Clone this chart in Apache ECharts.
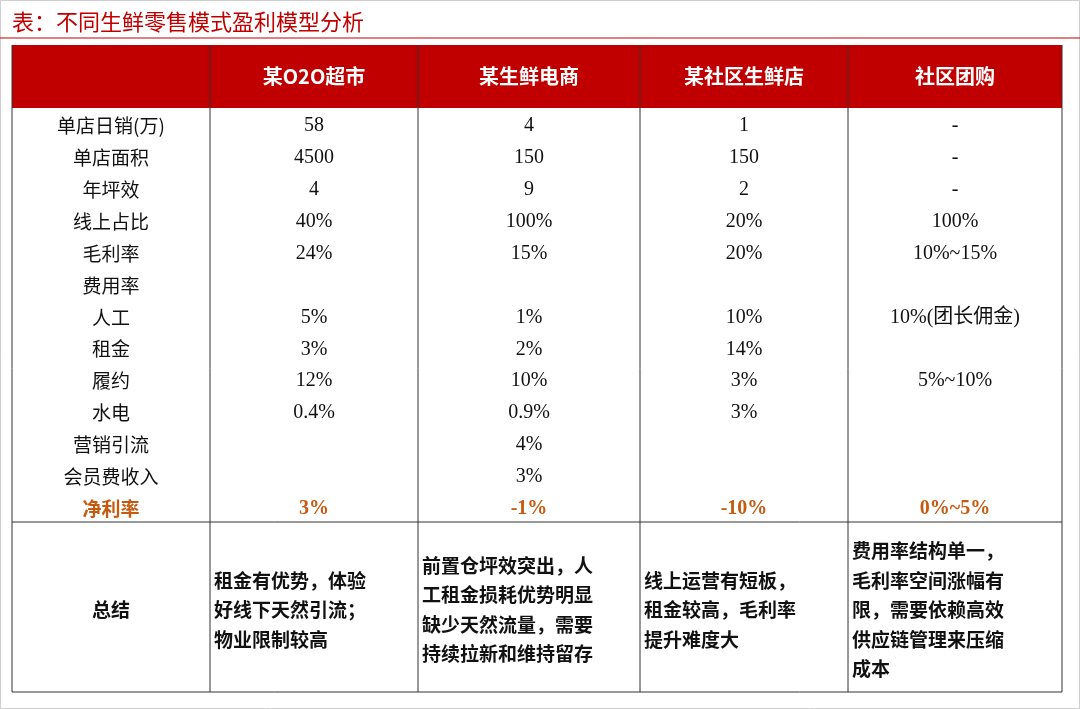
<!DOCTYPE html>
<html><head><meta charset="utf-8">
<script src="https://cdn.jsdelivr.net/npm/echarts@6/dist/echarts.min.js"></script>
<style>html,body{margin:0;padding:0;background:#fff}#c{width:1080px;height:709px}</style>
</head><body><div id="c"></div>
<script>
const title = '表：不同生鲜零售模式盈利模型分析';
const columns = ['某O2O超市', '某生鲜电商', '某社区生鲜店', '社区团购'];
const rowLabels = ['单店日销(万)', '单店面积', '年坪效', '线上占比', '毛利率', '费用率', '人工', '租金', '履约', '水电', '营销引流', '会员费收入', '净利率'];
const colO2O = ['58', '4500', '4', '40%', '24%', '', '5%', '3%', '12%', '0.4%', '', '', '3%'];
const colEcom = ['4', '150', '9', '100%', '15%', '', '1%', '2%', '10%', '0.9%', '4%', '3%', '-1%'];
const colStore = ['1', '150', '2', '20%', '20%', '', '10%', '14%', '3%', '3%', '', '', '-10%'];
const colGroup = ['-', '-', '-', '100%', '10%~15%', '', '10%(团长佣金)', '', '5%~10%', '', '', '', '0%~5%'];
const summaryLabel = '总结';
const summaries = [
  ['租金有优势，体验', '好线下天然引流；', '物业限制较高'],
  ['前置仓坪效突出，人', '工租金损耗优势明显', '缺少天然流量，需要', '持续拉新和维持留存'],
  ['线上运营有短板，', '租金较高，毛利率', '提升难度大'],
  ['费用率结构单一，', '毛利率空间涨幅有', '限，需要依赖高效', '供应链管理来压缩', '成本']
];

const colData = [colO2O, colEcom, colStore, colGroup];
const X = [12, 210, 418, 640, 848, 1062];
const headTop = 45, headBot = 108, rowTop = 110, rowH = 31.9, sumTop = 522, sumBot = 692;
const red = '#c00000', netColor = '#c55a11';
const cjk = '"Noto Sans CJK SC", sans-serif';
const numFont = '"Liberation Serif", "Noto Sans CJK SC", serif';
const g = [];
// outer frame
g.push({type:'rect', shape:{x:0.5,y:0.5,width:1079,height:708}, style:{fill:'none', stroke:'#cfcfcf', lineWidth:1}});
g.push({type:'text', x:12, y:22, style:{text:title, fill:red, font:'22px ' + cjk, textVerticalAlign:'middle'}});
g.push({type:'line', shape:{x1:0,y1:38,x2:1080,y2:38}, style:{stroke:red, lineWidth:1}});
g.push({type:'rect', shape:{x:X[0],y:headTop,width:X[5]-X[0],height:headBot-headTop}, style:{fill:red}});
columns.forEach((c,i)=>{
  g.push({type:'text', x:(X[i+1]+X[i+2])/2, y:(headTop+headBot)/2, style:{text:c, fill:'#fff', font:'bold 20px ' + cjk, textAlign:'center', textVerticalAlign:'middle'}});
});
// grid lines
for (let i=1;i<5;i++) g.push({type:'line', shape:{x1:X[i],y1:headTop,x2:X[i],y2:sumBot}, style:{stroke: i? '#333':'#333', lineWidth:1}});
g.push({type:'line', shape:{x1:X[0],y1:headTop,x2:X[0],y2:sumBot}, style:{stroke:'#333', lineWidth:1}});
g.push({type:'line', shape:{x1:X[5],y1:headTop,x2:X[5],y2:sumBot}, style:{stroke:'#333', lineWidth:1}});
g.push({type:'line', shape:{x1:X[0],y1:sumTop,x2:X[5],y2:sumTop}, style:{stroke:'#333', lineWidth:1}});
g.push({type:'line', shape:{x1:X[0],y1:sumBot,x2:X[5],y2:sumBot}, style:{stroke:'#333', lineWidth:1}});
rowLabels.forEach((lab,r)=>{
  const y = rowTop + rowH*(r+0.5);
  const net = r === rowLabels.length-1;
  g.push({type:'text', x:(X[0]+X[1])/2, y, style:{text:lab, fill: net?netColor:'#111', font:(net?'bold ':'')+'19px ' + cjk, textAlign:'center', textVerticalAlign:'middle'}});
  colData.forEach((col,i)=>{
    if (!col[r]) return;
    g.push({type:'text', x:(X[i+1]+X[i+2])/2, y, style:{text:col[r], fill: net?netColor:'#111', font:(net?'bold ':'')+'20px ' + numFont, textAlign:'center', textVerticalAlign:'middle'}});
  });
});
g.push({type:'text', x:(X[0]+X[1])/2, y:(sumTop+sumBot)/2+3, style:{text:summaryLabel, fill:'#111', font:'bold 19px ' + cjk, textAlign:'center', textVerticalAlign:'middle'}});
summaries.forEach((lines,i)=>{
  const lh = 29.5, mid = (sumTop+sumBot)/2 + 3;
  const y0 = mid - lh*(lines.length-1)/2;
  lines.forEach((t,k)=>{
    g.push({type:'text', x:X[i+1]+4, y:y0+k*lh, style:{text:t, fill:'#111', font:'bold 19px ' + cjk, textVerticalAlign:'middle'}});
  });
});
const chart = echarts.init(document.getElementById('c'));
chart.setOption({backgroundColor:'#fff', animation:false, graphic:g});
</script></body></html>
